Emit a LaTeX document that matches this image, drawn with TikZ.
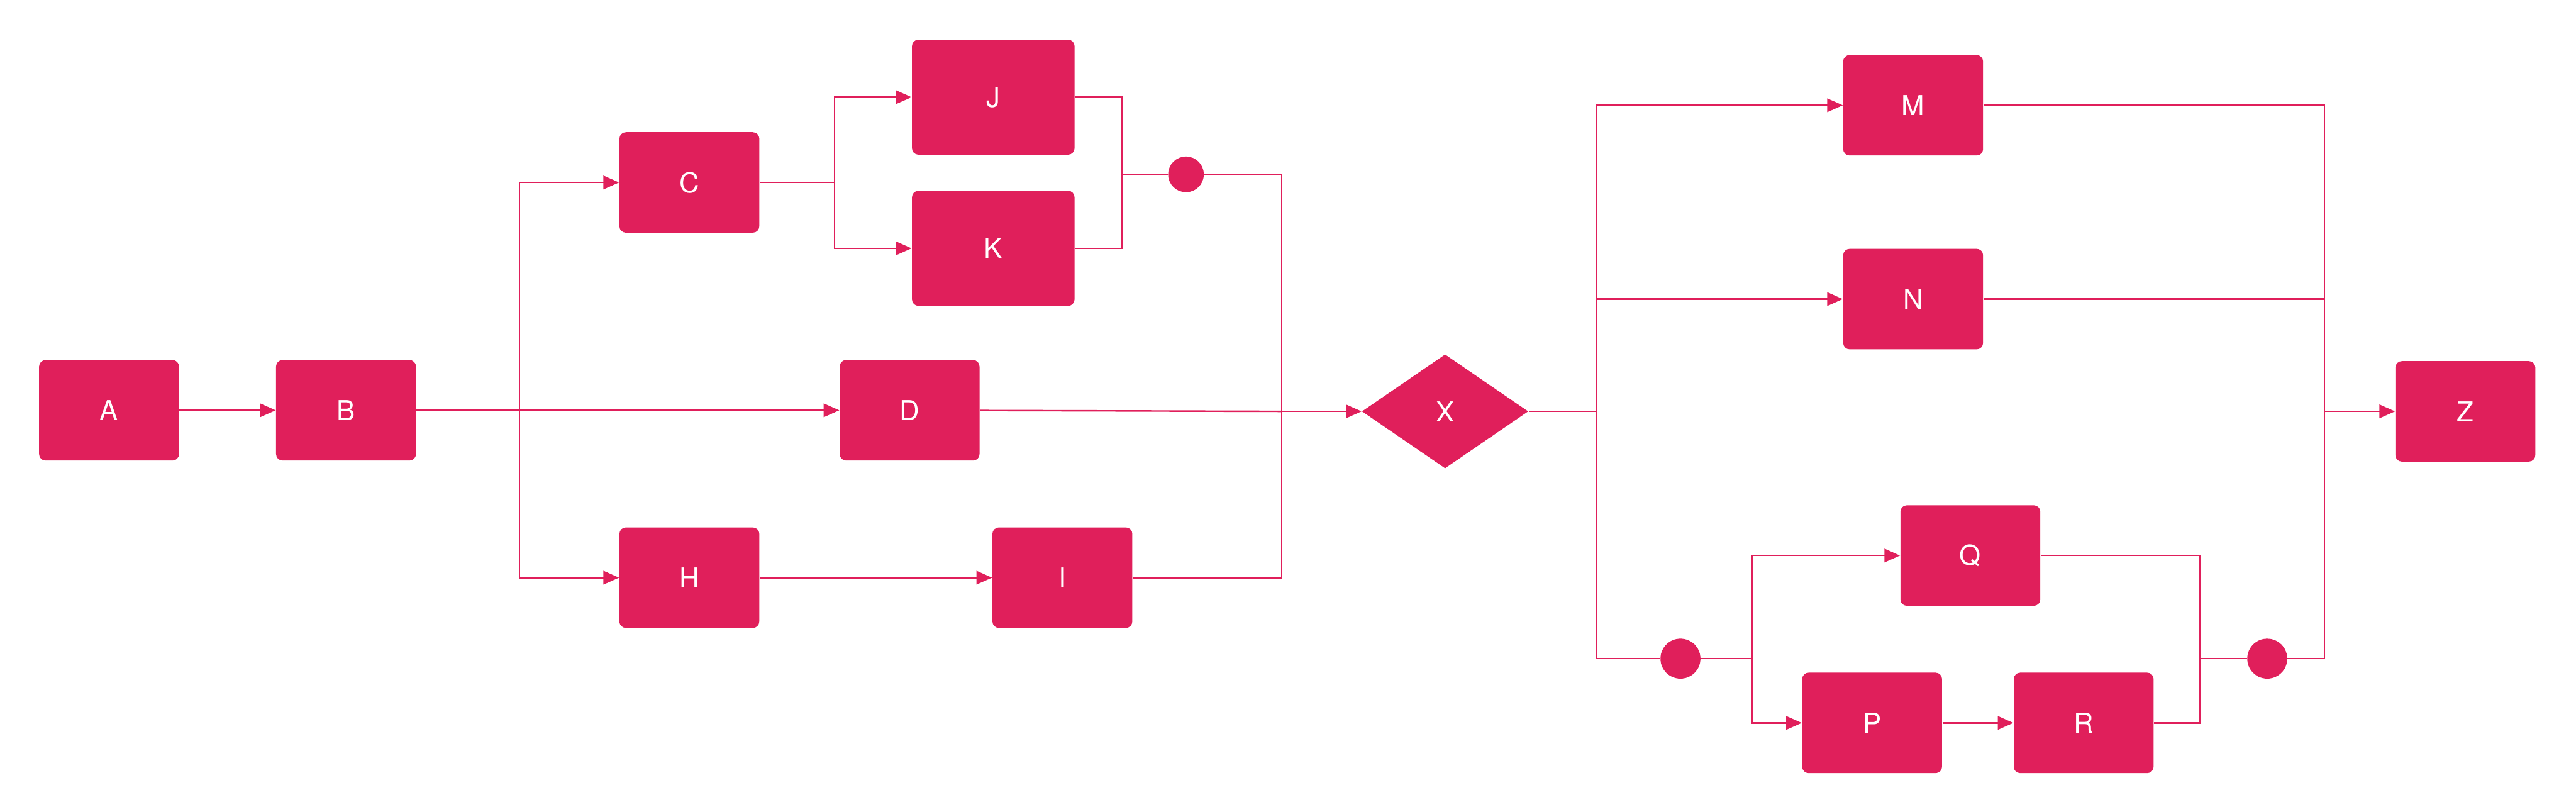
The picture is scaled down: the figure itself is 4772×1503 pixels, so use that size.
\documentclass[tikz,border=0pt]{standalone}
\usepackage{fontspec}
\setmainfont{TeX Gyre Heros}
\usetikzlibrary{arrows.meta,shapes.geometric}
\definecolor{flowpink}{RGB}{224,31,91}

\begin{document}
\begin{tikzpicture}[x=0.01cm,y=-0.01cm]
    % Define styles for the boxes, the gate, the dots and the links
    \tikzstyle{box} = [rectangle, rounded corners=0.12cm, minimum width=2.59cm, minimum height=1.86cm, fill=flowpink, text=white, font=\fontsize{14.5}{17}\selectfont]
    \tikzstyle{wide} = [box, minimum width=3.01cm, minimum height=2.13cm]
    \tikzstyle{gate} = [diamond, inner sep=0pt, minimum width=3.08cm, minimum height=2.11cm, fill=flowpink, text=white, font=\fontsize{14.5}{17}\selectfont]
    \tikzstyle{dot} = [circle, inner sep=0pt, fill=flowpink]
    \tikzstyle{link} = [draw=flowpink, line width=0.8pt]
    \tikzstyle{arr} = [link, -{Triangle[length=0.29cm,width=0.25cm]}]

    \useasboundingbox (0,0) rectangle (4772,1503);

    % Draw the boxes
    \foreach \name/\x/\y in {A/202/760, B/641/760, C/1277/338, D/1685/760, H/1277/1070, I/1968/1070, M/3544/195, N/3544/554, Q/3650/1029, P/3468/1339, R/3860/1339, Z/4567/762} {
        \node[box] (\name) at (\x,\y) {\name};
    }
    \node[wide] (J) at (1840,180) {J};
    \node[wide] (K) at (1840,460) {K};

    % Draw the gate and the dots
    \node[gate] (X) at (2677,762) {X};
    \node[dot, minimum size=0.66cm] (dot1) at (2197,323) {};
    \node[dot, minimum size=0.74cm] (dot2) at (3113,1220) {};
    \node[dot, minimum size=0.74cm] (dot3) at (4200,1220) {};

    % Junctions
    \coordinate (sB) at (962,760);
    \coordinate (sC) at (1546,338);
    \coordinate (mJK) at (2079,323);
    \coordinate (mX) at (2374,762);
    \coordinate (sX) at (2958,762);
    \coordinate (sQ) at (3245,1220);
    \coordinate (mQR) at (4075,1220);
    \coordinate (mZ) at (4306,762);

    % Left half
    \draw[arr] (A) -- (B);
    \draw[arr] (B) -- (D);
    \draw[arr] (sB) |- (C);
    \draw[arr] (sB) |- (H);
    \draw[link] (C) -- (sC);
    \draw[arr] (sC) |- (J);
    \draw[arr] (sC) |- (K);
    \draw[link] (J) -| (mJK);
    \draw[link] (K) -| (mJK);
    \draw[link] (mJK) -- (dot1);
    \draw[link] (dot1) -| (mX);
    \draw[arr] (H) -- (I);
    \draw[link] (I) -| (mX);
    \draw[link] (D) -- (mX);
    \draw[arr] (mX) -- (X);

    % Right half
    \draw[link] (X) -- (sX);
    \draw[arr] (sX) |- (M);
    \draw[arr] (sX) |- (N);
    \draw[link] (sX) |- (dot2);
    \draw[link] (dot2) -- (sQ);
    \draw[arr] (sQ) |- (Q);
    \draw[arr] (sQ) |- (P);
    \draw[arr] (P) -- (R);
    \draw[link] (Q) -| (mQR);
    \draw[link] (R) -| (mQR);
    \draw[link] (mQR) -- (dot3);
    \draw[link] (dot3) -| (mZ);
    \draw[link] (M) -| (mZ);
    \draw[link] (N) -| (mZ);
    \draw[arr] (mZ) -- (Z);
\end{tikzpicture}
\end{document}
